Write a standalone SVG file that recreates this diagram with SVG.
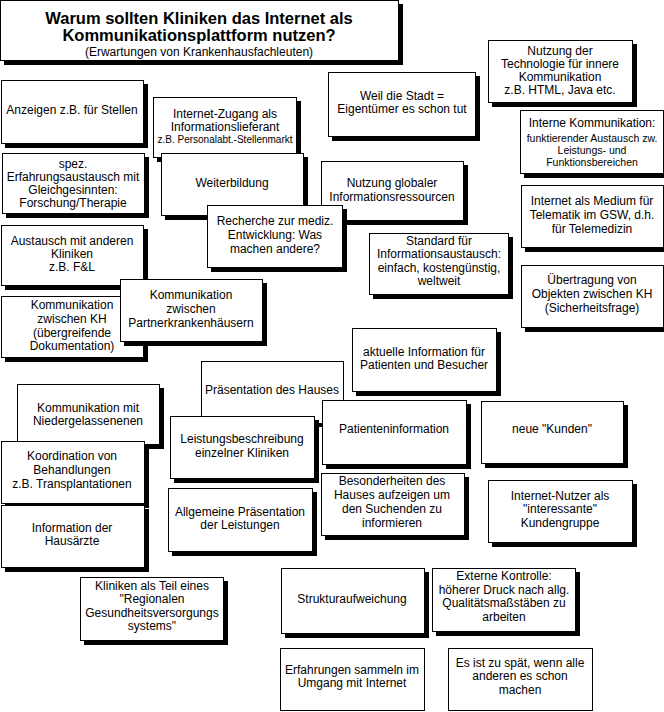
<svg xmlns="http://www.w3.org/2000/svg" width="664" height="712" viewBox="0 0 664 712">
<style>
.sh{fill:#000}
.bx{fill:#fff;stroke:#000;stroke-width:1}
text{font-family:"Liberation Sans",Arial,Helvetica,sans-serif;font-size:12px;text-anchor:middle;fill:#000}
.t1{font-size:16.5px;font-weight:bold}
.sm{font-size:10px}
.sm2{font-size:10.5px}
</style>
<rect width="664" height="712" fill="#fff"/>
<g id="connectors"/>
<g id="title">
<rect class="sh" x="4" y="4" width="399" height="61"/>
<rect class="bx" x="0.5" y="0.5" width="398" height="60"/>
<text class="t1" x="199" y="24">Warum sollten Kliniken das Internet als</text>
<text class="t1" x="199" y="41">Kommunikationsplattform nutzen?</text>
<text x="199" y="55.5">(Erwartungen von Krankenhausfachleuten)</text>
</g>
<g id="anzeigen">
<rect class="sh" x="5" y="84" width="143" height="64"/>
<rect class="bx" x="1.5" y="80.5" width="142" height="63"/>
<text x="72" y="114">Anzeigen z.B. für Stellen</text>
</g>
<g id="zugang">
<rect class="sh" x="157" y="101" width="144" height="61"/>
<rect class="bx" x="153.5" y="97.5" width="143" height="60"/>
<text x="225" y="118">Internet-Zugang als</text>
<text x="225" y="131">Informationslieferant</text>
<text class="sm" x="225" y="143">z.B. Personalabt.-Stellenmarkt</text>
</g>
<g id="weil">
<rect class="sh" x="332" y="76" width="148" height="65"/>
<rect class="bx" x="328.5" y="72.5" width="147" height="64"/>
<text x="402" y="100">Weil die Stadt =</text>
<text x="402" y="113">Eigentümer es schon tut</text>
</g>
<g id="technologie">
<rect class="sh" x="492" y="44" width="145" height="63"/>
<rect class="bx" x="488.5" y="40.5" width="144" height="62"/>
<text x="560" y="55">Nutzung der</text>
<text x="560" y="68">Technologie für innere</text>
<text x="560" y="81">Kommunikation</text>
<text x="560" y="94">z.B. HTML, Java etc.</text>
</g>
<g id="interne">
<rect class="sh" x="524" y="114" width="144" height="64"/>
<rect class="bx" x="520.5" y="110.5" width="143" height="63"/>
<text x="592" y="127">Interne Kommunikation:</text>
<text class="sm2" x="592" y="142">funktierender Austausch zw.</text>
<text class="sm2" x="592" y="154">Leistungs- und</text>
<text class="sm2" x="592" y="166">Funktionsbereichen</text>
</g>
<g id="spez">
<rect class="sh" x="6" y="157" width="143" height="61"/>
<rect class="bx" x="2.5" y="153.5" width="142" height="60"/>
<text x="73" y="168">spez.</text>
<text x="73" y="181">Erfahrungsaustausch mit</text>
<text x="73" y="194">Gleichgesinnten:</text>
<text x="73" y="207">Forschung/Therapie</text>
</g>
<g id="weiterbildung">
<rect class="sh" x="165" y="157" width="143" height="63"/>
<rect class="bx" x="161.5" y="153.5" width="142" height="62"/>
<text x="232" y="187">Weiterbildung</text>
</g>
<g id="global">
<rect class="sh" x="325" y="165" width="143" height="60"/>
<rect class="bx" x="321.5" y="161.5" width="142" height="59"/>
<text x="392" y="187">Nutzung globaler</text>
<text x="392" y="201">Informationsressourcen</text>
</g>
<g id="recherche">
<rect class="sh" x="211" y="209" width="136" height="63"/>
<rect class="bx" x="207.5" y="205.5" width="135" height="62"/>
<text x="275" y="225">Recherche zur mediz.</text>
<text x="275" y="239">Entwicklung: Was</text>
<text x="275" y="253">machen andere?</text>
</g>
<g id="standard">
<rect class="sh" x="373" y="237" width="140" height="62"/>
<rect class="bx" x="369.5" y="233.5" width="139" height="61"/>
<text x="439" y="245">Standard für</text>
<text x="439" y="258">Informationsaustausch:</text>
<text x="439" y="272">einfach, kostengünstig,</text>
<text x="439" y="285">weltweit</text>
</g>
<g id="medium">
<rect class="sh" x="525" y="189" width="143" height="63"/>
<rect class="bx" x="521.5" y="185.5" width="142" height="62"/>
<text x="592" y="205">Internet als Medium für</text>
<text x="592" y="219">Telematik im GSW, d.h.</text>
<text x="592" y="233">für Telemedizin</text>
</g>
<g id="austausch">
<rect class="sh" x="5" y="229" width="143" height="61"/>
<rect class="bx" x="1.5" y="225.5" width="142" height="60"/>
<text x="72" y="245">Austausch mit anderen</text>
<text x="72" y="258">Kliniken</text>
<text x="72" y="271">z.B. F&amp;L</text>
</g>
<g id="kh">
<rect class="sh" x="5" y="300" width="143" height="62"/>
<rect class="bx" x="1.5" y="296.5" width="142" height="61"/>
<text x="72" y="309">Kommunikation</text>
<text x="72" y="323">zwischen KH</text>
<text x="72" y="337">(übergreifende</text>
<text x="72" y="350">Dokumentation)</text>
</g>
<g id="partner">
<rect class="sh" x="124" y="283" width="143" height="63"/>
<rect class="bx" x="120.5" y="279.5" width="142" height="62"/>
<text x="191" y="299">Kommunikation</text>
<text x="191" y="313">zwischen</text>
<text x="191" y="327">Partnerkrankenhäusern</text>
</g>
<g id="uebertragung">
<rect class="sh" x="525" y="269" width="143" height="63"/>
<rect class="bx" x="521.5" y="265.5" width="142" height="62"/>
<text x="592" y="284">Übertragung von</text>
<text x="592" y="298">Objekten zwischen KH</text>
<text x="592" y="312">(Sicherheitsfrage)</text>
</g>
<g id="aktuelle">
<rect class="sh" x="356" y="332" width="145" height="64"/>
<rect class="bx" x="352.5" y="328.5" width="144" height="63"/>
<text x="424" y="356">aktuelle Information für</text>
<text x="424" y="369">Patienten und Besucher</text>
</g>
<g id="praesentation">
<rect class="sh" x="205" y="423" width="143" height="4"/>
<rect class="bx" x="201.5" y="361.5" width="142" height="62"/>
<text x="272" y="394">Präsentation des Hauses</text>
</g>
<g id="niedergelassene">
<rect class="sh" x="21" y="388" width="143" height="61"/>
<rect class="bx" x="17.5" y="384.5" width="142" height="60"/>
<text x="88" y="412">Kommunikation mit</text>
<text x="88" y="425">Niedergelassenenen</text>
</g>
<g id="leistung">
<rect class="sh" x="174" y="420" width="145" height="63"/>
<rect class="bx" x="170.5" y="416.5" width="144" height="62"/>
<text x="242" y="443">Leistungsbeschreibung</text>
<text x="242" y="457">einzelner Kliniken</text>
</g>
<g id="patienten">
<rect class="sh" x="326" y="404" width="145" height="65"/>
<rect class="bx" x="322.5" y="400.5" width="144" height="64"/>
<text x="394" y="433">Patienteninformation</text>
</g>
<g id="kunden">
<rect class="sh" x="485" y="405" width="143" height="63"/>
<rect class="bx" x="481.5" y="401.5" width="142" height="62"/>
<text x="552" y="433">neue "Kunden"</text>
</g>
<g id="koordination">
<rect class="sh" x="5" y="445" width="144" height="63"/>
<rect class="bx" x="1.5" y="441.5" width="143" height="62"/>
<text x="72" y="460">Koordination von</text>
<text x="72" y="474">Behandlungen</text>
<text x="72" y="488">z.B. Transplantationen</text>
</g>
<g id="hausaerzte">
<rect class="sh" x="5" y="509" width="144" height="63"/>
<rect class="bx" x="1.5" y="505.5" width="143" height="62"/>
<text x="72" y="532">Information der</text>
<text x="72" y="545">Hausärzte</text>
</g>
<g id="besonderheiten">
<rect class="sh" x="325" y="477" width="144" height="63"/>
<rect class="bx" x="321.5" y="473.5" width="143" height="62"/>
<text x="392" y="485">Besonderheiten des</text>
<text x="392" y="499">Hauses aufzeigen um</text>
<text x="392" y="513">den Suchenden zu</text>
<text x="392" y="527">informieren</text>
</g>
<g id="nutzer">
<rect class="sh" x="492" y="484" width="145" height="63"/>
<rect class="bx" x="488.5" y="480.5" width="144" height="62"/>
<text x="560" y="500">Internet-Nutzer als</text>
<text x="560" y="513">"interessante"</text>
<text x="560" y="527">Kundengruppe</text>
</g>
<g id="allgemein">
<rect class="sh" x="172" y="492" width="145" height="64"/>
<rect class="bx" x="168.5" y="488.5" width="144" height="63"/>
<text x="240" y="516">Allgemeine Präsentation</text>
<text x="240" y="529">der Leistungen</text>
</g>
<g id="kliniken">
<rect class="sh" x="84" y="581" width="144" height="64"/>
<rect class="bx" x="80.5" y="577.5" width="143" height="63"/>
<text x="152" y="590">Kliniken als Teil eines</text>
<text x="152" y="603">"Regionalen</text>
<text x="152" y="617">Gesundheitsversorgungs</text>
<text x="152" y="630">systems"</text>
</g>
<g id="struktur">
<rect class="sh" x="285" y="572" width="144" height="66"/>
<rect class="bx" x="281.5" y="568.5" width="143" height="65"/>
<text x="352" y="603">Strukturaufweichung</text>
</g>
<g id="extern">
<rect class="sh" x="436" y="572" width="144" height="64"/>
<rect class="bx" x="432.5" y="568.5" width="143" height="63"/>
<text x="504" y="580">Externe Kontrolle:</text>
<text x="504" y="594">höherer Druck nach allg.</text>
<text x="504" y="607">Qualitätsmaßstäben zu</text>
<text x="504" y="621">arbeiten</text>
</g>
<g id="erfahrungen">
<rect class="bx" x="280.5" y="648.5" width="144" height="62"/>
<text x="352" y="674">Erfahrungen sammeln im</text>
<text x="352" y="687">Umgang mit Internet</text>
</g>
<g id="spaet">
<rect class="bx" x="448.5" y="648.5" width="144" height="62"/>
<text x="520" y="667">Es ist zu spät, wenn alle</text>
<text x="520" y="680">anderen es schon</text>
<text x="520" y="694">machen</text>
</g>
</svg>
